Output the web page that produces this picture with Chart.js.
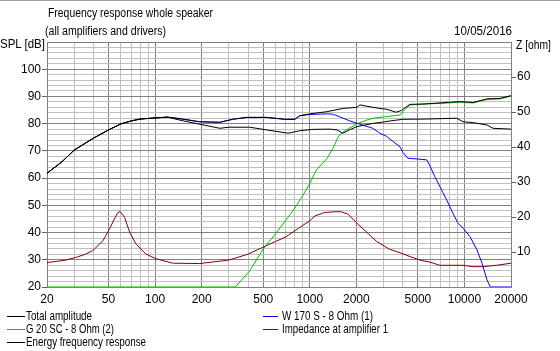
<!DOCTYPE html>
<html>
<head>
<meta charset="utf-8">
<script src="https://cdn.jsdelivr.net/npm/chart.js@4"></script>
<style>
  html, body { margin: 0; padding: 0; background: #fff; }
  #wrap { position: relative; width: 560px; height: 351px; border-top: 1px solid #a0a0a0; box-sizing: border-box; overflow: hidden; }
  #chart { position: absolute; left: 0; top: -1px; }
  .t { position: absolute; font-family: "Liberation Sans", Arial, sans-serif; font-size: 12px; line-height: 14px; color: #000; white-space: nowrap; transform-origin: 0 50%; }
  .t.r { transform-origin: 100% 50%; }
  .sw { position: absolute; height: 1px; }
</style>
</head>
<body>
<div id="wrap">
  <canvas id="chart" width="560" height="351"></canvas>
  <div class="t" data-w="165" style="left:48px; top:5px;">Frequency response whole speaker</div>
  <div class="t" data-w="121" style="left:45px; top:23px;">(all amplifiers and drivers)</div>
  <div class="t r" data-w="58" style="right:48px; top:23px;">10/05/2016</div>
  <div class="t" data-w="45" style="left:0px; top:36px;">SPL [dB]</div>
  <div class="t" data-w="35" style="left:516px; top:37px;">Z [ohm]</div>

  <div class="sw" style="left:7px; top:315px; width:18px; background:#000;"></div>
  <div class="t" data-w="66" style="left:26px; top:308px;">Total amplitude</div>
  <div class="sw" style="left:7px; top:328px; width:18px; background:#00c000;"></div>
  <div class="t" data-w="88" style="left:26px; top:321px;">G 20 SC - 8 Ohm (2)</div>
  <div class="sw" style="left:7px; top:341px; width:18px; background:#000;"></div>
  <div class="t" data-w="120" style="left:26px; top:334px;">Energy frequency response</div>
  <div class="sw" style="left:263px; top:315px; width:15px; background:#0000ff;"></div>
  <div class="t" data-w="91" style="left:282px; top:308px;">W 170 S - 8 Ohm (1)</div>
  <div class="sw" style="left:263px; top:328px; width:15px; background:#800000;"></div>
  <div class="t" data-w="106" style="left:282px; top:321px;">Impedance at amplifier 1</div>
</div>
<script>
// values (Hz / dB / ohm)
const totalFreq = [20, 25, 30, 40, 50, 60, 70, 80, 100, 120, 150, 194, 262, 317, 391, 527, 689, 800, 861, 1000, 1289, 1637, 2014, 2108, 2558, 2838, 3148, 3600, 3900, 4440, 5390, 7260, 9360, 11350, 14000, 17000, 20000];
const totalSpl  = [61.8, 66, 70.3, 74.7, 77.7, 79.9, 81, 81.7, 82.1, 82.4, 81.7, 80.7, 80.5, 81.6, 82.3, 82.3, 81.6, 81.6, 82.9, 83.6, 84.4, 85.6, 86.0, 86.9, 86.0, 85.6, 85.3, 84.2, 84.8, 87.1, 87.2, 87.7, 88.1, 87.8, 89.1, 89.3, 90.3];

const energyFreq = [20, 25, 30, 40, 50, 60, 70, 80, 100, 120, 150, 194, 262, 300, 408, 527, 725, 861, 1050, 1350, 1500, 1637, 1800, 2014, 2558, 2900, 3400, 4000, 5700, 8900, 9800, 11350, 14000, 15300, 20000];
const energySpl  = [61.8, 66, 70.3, 74.7, 77.7, 79.9, 81, 81.7, 82.1, 82.4, 81.1, 79.8, 78.3, 78.7, 78.7, 77.7, 76.5, 77.4, 77.9, 78.0, 77.7, 76.5, 77.7, 78.9, 80.1, 80.5, 81.1, 81.6, 81.7, 82.0, 80.7, 80.4, 79.5, 78.3, 78];

const wooferFreq = [20, 25, 30, 40, 50, 60, 70, 80, 100, 120, 150, 194, 262, 317, 391, 527, 689, 800, 861, 1000, 1289, 1400, 1550, 1800, 2108, 2558, 2838, 3148, 3445, 3828, 4000, 4310, 5000, 5716, 5980, 6440, 7670, 8430, 9080, 9800, 10860, 12060, 12990, 14000, 14700, 20000];
const wooferSpl  = [61.8, 66, 70.3, 74.7, 77.7, 79.9, 81, 81.7, 82.1, 82.4, 81.7, 80.7, 80.5, 81.6, 82.3, 82.3, 81.6, 81.6, 82.9, 83.4, 83.6, 83.5, 82.6, 81.1, 79.8, 78.3, 76.5, 75.3, 73.5, 71.5, 69.5, 67.3, 67, 66.7, 64.5, 60.5, 52, 47.1, 43.4, 41.6, 38.5, 33.6, 28.7, 22.6, 20, 20];

const tweeterFreq = [20, 330, 410, 500, 600, 700, 800, 900, 1000, 1104, 1296, 1414, 1530, 1620, 1750, 2045, 2328, 2558, 3148, 3828, 4000, 4200, 4440, 5390, 7260, 9360, 11350, 14000, 17000, 20000];
const tweeterSpl  = [20, 20, 26, 34, 39.5, 44.5, 49, 53.5, 58, 63, 67.3, 71, 75.2, 76.7, 77.9, 80.1, 81.3, 82, 82.6, 83.2, 84.4, 85.6, 86.9, 87.2, 87.5, 87.9, 87.6, 88.9, 89.1, 90.1];

const impFreq = [20, 23, 26.6, 31, 35.6, 39.5, 46, 50.6, 54.5, 57.3, 59.3, 63.5, 68.5, 75.5, 87.3, 101, 130, 194, 300, 400, 500, 600, 700, 860, 1000, 1080, 1250, 1480, 1600, 1770, 2000, 2325, 2690, 3270, 3830, 4440, 5160, 5980, 6940, 9800, 11350, 13150, 16100, 20000];
const impOhm  = [7.0, 7.3, 7.7, 8.5, 9.4, 10.4, 13.2, 16.5, 19.4, 21.2, 21.6, 19.9, 15.6, 12.2, 9.4, 8.1, 6.8, 6.7, 7.7, 9.4, 11.4, 13, 14.3, 17.0, 18.9, 20.3, 21.3, 21.5, 21.5, 20.8, 18.4, 15.7, 13.1, 10.8, 9.8, 8.7, 7.7, 7.1, 6.2, 6.2, 5.8, 5.8, 6.2, 6.8];

const freqGrid = [20, 30, 40, 50, 60, 70, 80, 90, 100, 200, 300, 400, 500, 600, 700, 800, 900, 1000, 2000, 3000, 4000, 5000, 6000, 7000, 8000, 9000, 10000, 20000];
const freqLabels = [20, 50, 100, 200, 500, 1000, 2000, 5000, 10000, 20000];

// squeeze the html labels to the narrow widths of the original bitmap font
document.querySelectorAll('.t[data-w]').forEach(el => {
    const w = el.getBoundingClientRect().width;
    el.style.transform = `scaleX(${(+el.dataset.w / w).toFixed(3)})`;
});

const pts = (xs, ys) => xs.map((x, i) => ({ x: x, y: ys[i] }));
const FONT = { family: '"Liberation Sans", Arial, sans-serif', size: 12 };
const DARK = '#808080', LIGHT = '#c0c0c0';

const line = (label, data, color, axis, order) => ({
    label, data, borderColor: color, borderWidth: 1, pointRadius: 0,
    tension: 0, yAxisID: axis, order, clip: 0
});

new Chart(document.getElementById('chart'), {
    type: 'line',
    data: {
        datasets: [
            line('Total amplitude', pts(totalFreq, totalSpl), '#000000', 'y', 0),
            line('Energy frequency response', pts(energyFreq, energySpl), '#000000', 'y', 1),
            line('W 170 S - 8 Ohm (1)', pts(wooferFreq, wooferSpl), '#0000ff', 'y', 2),
            line('G 20 SC - 8 Ohm (2)', pts(tweeterFreq, tweeterSpl), '#00c000', 'y', 3),
            line('Impedance at amplifier 1', pts(impFreq, impOhm), '#800000', 'z', 4)
        ]
    },
    options: {
        responsive: false,
        animation: false,
        events: [],
        layout: { padding: { top: 42, bottom: 44, left: 0, right: 0 } },
        plugins: { legend: { display: false }, tooltip: { enabled: false } },
        scales: {
            x: {
                type: 'logarithmic', min: 20, max: 20000,
                afterBuildTicks: s => { s.ticks = freqGrid.map(v => ({ value: v })); },
                afterFit: s => { s.height = 20; },
                ticks: {
                    autoSkip: false, maxRotation: 0, padding: 5, color: '#000', font: FONT,
                    callback: v => freqLabels.includes(v) ? String(v) : ''
                },
                grid: {
                    drawTicks: false,
                    color: c => (freqLabels.includes(c.tick.value) ? DARK : LIGHT)
                },
                border: { color: DARK }
            },
            y: {
                position: 'left', min: 20, max: 110,
                afterFit: s => { s.width = 47; },
                ticks: {
                    stepSize: 2, autoSkip: false, padding: 1, color: '#000', font: FONT,
                    callback: v => (v % 10 === 0 && v < 110) ? String(v) : ''
                },
                grid: {
                    tickLength: 5,
                    color: c => (c.tick.value % 10 === 0 ? DARK : LIGHT),
                    tickColor: c => (c.tick.value % 10 === 0 && c.tick.value < 110 ? '#606060' : 'rgba(0,0,0,0)')
                },
                border: { color: DARK }
            },
            z: {
                position: 'right', min: 0, max: 70,
                afterFit: s => { s.width = 49; },
                ticks: {
                    stepSize: 10, autoSkip: false, padding: 1, color: '#000', font: FONT,
                    callback: v => (v > 0 && v < 70) ? String(v) : ''
                },
                grid: {
                    drawOnChartArea: false, tickLength: 5,
                    tickColor: c => (c.tick.value > 0 && c.tick.value < 70 ? '#606060' : 'rgba(0,0,0,0)')
                },
                border: { color: DARK }
            }
        }
    }
});
</script>
</body>
</html>
